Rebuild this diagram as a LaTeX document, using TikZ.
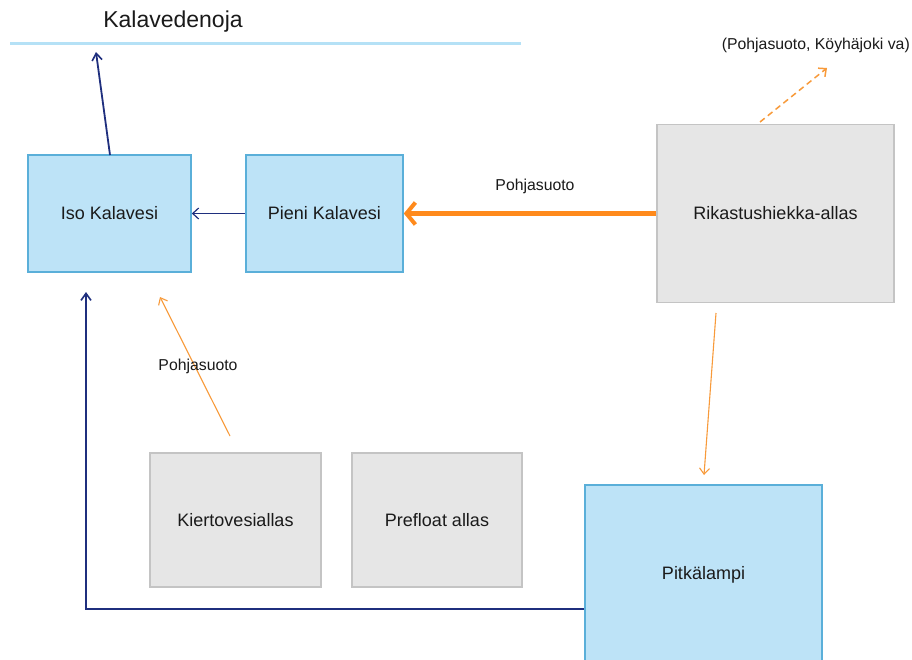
\documentclass[tikz,border=0pt]{standalone}
\usepackage{fontspec}
\setmainfont{Liberation Sans}
\usetikzlibrary{arrows.meta}
\definecolor{boxfill}{HTML}{BDE3F7}
\definecolor{boxline}{HTML}{5AAFD9}
\definecolor{grayfill}{HTML}{E6E6E6}
\definecolor{grayline}{HTML}{C4C4C4}
\definecolor{navy}{HTML}{1F2F7E}
\definecolor{orng}{HTML}{F89A3A}
\definecolor{orngthick}{HTML}{FF8A1C}
\definecolor{lineblue}{HTML}{B5E1F6}
\definecolor{txt}{HTML}{1A1A1A}
\tikzset{
  bluebox/.style={draw=boxline, fill=boxfill, line width=1.6pt, inner sep=0pt, font=\fontsize{18}{21}\selectfont, text=txt},
  graybox/.style={draw=grayline, fill=grayfill, line width=1.2pt, inner sep=0pt, font=\fontsize{18}{21}\selectfont, text=txt},
  lbl/.style={font=\fontsize{15.8}{18}\selectfont, text=txt, inner sep=0pt},
  navyarrow/.style={draw=navy, line width=1.8pt, -{Straight Barb[length=7pt,width=10pt,line width=1.6pt]}},
  navythin/.style={draw=navy, line width=1.2pt, -{Straight Barb[length=6pt,width=11pt,line width=1.2pt]}},
  orarrow/.style={draw=orng, line width=1.1pt, -{Straight Barb[length=6pt,width=10pt,line width=1.1pt]}},
  orthick/.style={draw=orngthick, line width=5pt, -{Straight Barb[length=9pt,width=22pt,line width=4pt]}},
  ordash/.style={draw=orng, line width=1.5pt, dash pattern=on 6pt off 4pt, -{Straight Barb[length=6pt,width=11pt,line width=1.5pt]}}
}
\begin{document}
\begin{tikzpicture}[x=1pt,y=-1pt]
\useasboundingbox (0,0) rectangle (912,659);
\clip (0,0) rectangle (912,659);
\fill[white] (0,0) rectangle (912,659);
% title and line
\node[font=\fontsize{23}{26}\selectfont, text=txt, inner sep=0pt] (title) at (173,22) {Kalavedenoja};
\draw[lineblue, line width=3pt] (10,43) -- (521,43);
\coordinate (lineend) at (96,52);
% boxes
\node[bluebox, minimum width=163pt, minimum height=117pt] (iso) at (109.5,213.5) {Iso Kalavesi};
\node[bluebox, minimum width=157pt, minimum height=117pt] (pieni) at (324.5,213.5) {Pieni Kalavesi};
\node[graybox, minimum width=237pt, minimum height=178pt] (rik) at (775.5,213.5) {Rikastushiekka-allas};
\node[graybox, minimum width=171pt, minimum height=134pt] (kierto) at (235.5,520) {Kiertovesiallas};
\node[graybox, minimum width=170pt, minimum height=134pt] (pref) at (437,520) {Prefloat allas};
\node[bluebox, minimum width=237pt, minimum height=180pt] (pitka) at (703.5,575) {Pitkälampi};
% connectors
\draw[navyarrow] (110,155) -- (lineend);
\draw[navythin] (pieni.west) -- (iso.east);
\draw[orthick] (rik.west) -- (rik.west -| pieni.east);
\node[lbl] (lblp1) at (535,186) {Pohjasuoto};
\coordinate (dashstart) at (760,122);
\coordinate (dashend) at (827,68);
\draw[ordash] (dashstart) -- (dashend);
\node[lbl, anchor=east] (lblp2) at (910,45) {(Pohjasuoto, Köyhäjoki va)};
\coordinate (kstart) at (230,436);
\coordinate (kend) at (160,297);
\draw[orarrow] (kstart) -- (kend);
\node[lbl] (lblp3) at (198,366) {Pohjasuoto};
\coordinate (rstart) at (716,313);
\coordinate (rend) at (704,475);
\draw[orarrow] (rstart) -- (rend);
\coordinate (corner) at (86,609);
\coordinate (upend) at (86,292);
\draw[navyarrow] (pitka.west |- 0,609) -- (corner) -- (upend);
\end{tikzpicture}
\end{document}
